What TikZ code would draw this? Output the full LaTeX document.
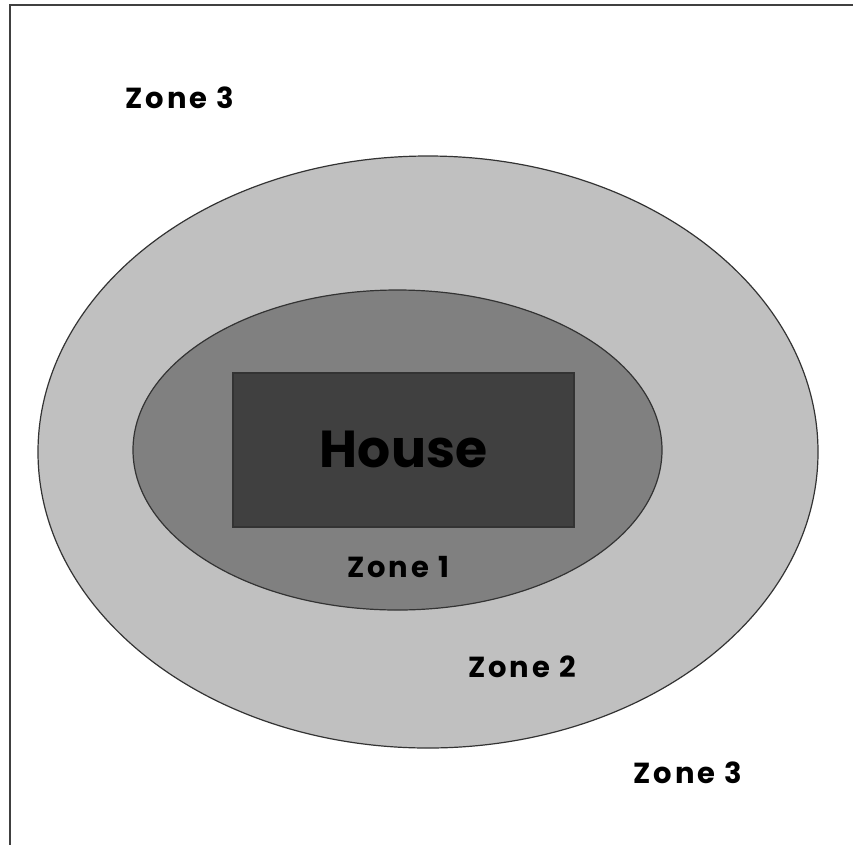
\documentclass[tikz,border=0pt]{standalone}
\usepackage{fontspec}
\setmainfont{Poppins}[BoldFont={* Bold}]
\definecolor{zonetwo}{HTML}{C0C0C0}
\definecolor{zoneone}{HTML}{808080}
\definecolor{housec}{HTML}{404040}
\begin{document}
\begin{tikzpicture}[x=1pt,y=-1pt,
  outline/.style={draw=black!80,line width=1.2pt},
  zonelabel/.style={font=\bfseries\fontsize{29}{32}\selectfont\addfontfeatures{LetterSpace=10},inner sep=0pt,anchor=center}]
\useasboundingbox (0,0) rectangle (853,844);
\begin{scope}
\clip (0,0) rectangle (853,844);
\draw[draw=black!75,line width=2.2pt] (10,5) rectangle (900,900);
\end{scope}
\draw[outline,fill=zonetwo] (428,452) ellipse [x radius=390,y radius=296];
\draw[outline,fill=zoneone] (397.5,450) ellipse [x radius=264.5,y radius=160];
\node[outline,fill=housec,minimum width=341,minimum height=154,inner sep=0pt] (house) at (403.5,450) {};
\node[font=\bfseries\fontsize{52}{56}\selectfont,inner sep=0pt] (houselabel) at (403.5,449) {House};
\node[zonelabel] (z3a) at (180,98) {Zone 3};
\node[zonelabel] (z1) at (398,567) {Zone 1};
\node[zonelabel] (z2) at (522,667) {Zone 2};
\node[zonelabel] (z3b) at (688,773) {Zone 3};
\end{tikzpicture}
\end{document}
